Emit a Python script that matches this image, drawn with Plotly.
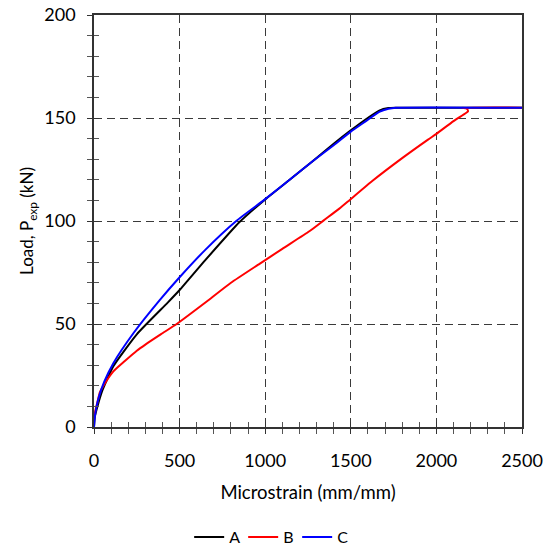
import plotly.graph_objects as go

# Data (microstrain, load kN)
a_x = [0, 5, 20, 50, 113, 250, 432, 500, 650, 850, 1000, 1150, 1277, 1400, 1500, 1588, 1666, 1720, 1760, 2500]
a_y = [0, 5, 10, 18, 29.5, 45, 60.5, 66.5, 81, 99.5, 110.5, 120.5, 129, 137.5, 144, 149.4, 153.6, 154.8, 155, 155]

b_x = [0, 8, 20, 35, 70, 113, 180, 250, 300, 400, 483, 666, 800, 967, 1100, 1258, 1342, 1433, 1491, 1627, 1800, 1951, 2000, 2100, 2170, 2185, 2178, 2150, 2500]
b_y = [4, 8, 12, 17, 22, 27, 32, 37, 40, 45.5, 50, 61.4, 70, 79.2, 86.5, 95, 100.3, 106, 110, 119.5, 130.5, 139.5, 142.3, 148.5, 152.3, 153.3, 154.5, 155, 155]

c_x = [0, 5, 15, 30, 60, 113, 230, 385, 500, 650, 831, 1000, 1150, 1277, 1400, 1500, 1588, 1666, 1720, 1764, 2500]
c_y = [0, 5, 10, 15, 22, 31, 45.5, 61.7, 72.7, 86, 100, 110.6, 120.5, 129, 136.8, 143.4, 148.5, 153, 154.5, 155, 155]

x_ticks = [0, 500, 1000, 1500, 2000, 2500]
y_ticks = [0, 50, 100, 150, 200]

FONT = "Lato"

fig = go.Figure()
fig.add_trace(go.Scatter(x=a_x, y=a_y, mode="lines", name="A",
                         line=dict(color="black", width=2, shape="spline", smoothing=0.5)))
fig.add_trace(go.Scatter(x=b_x, y=b_y, mode="lines", name="B",
                         line=dict(color="#ff0000", width=2, shape="spline", smoothing=0.5)))
fig.add_trace(go.Scatter(x=c_x, y=c_y, mode="lines", name="C",
                         line=dict(color="#0000ff", width=2, shape="spline", smoothing=0.5)))
# invisible trace to anchor overlay axes (inside ticks)
fig.add_trace(go.Scatter(x=[0], y=[0], xaxis="x2", yaxis="y2", mode="markers",
                         marker=dict(opacity=0), showlegend=False, hoverinfo="skip"))

grid = dict(showgrid=True, gridcolor="#3a3a3a", gridwidth=1, griddash="8px,5px")

fig.update_layout(
    width=548, height=547,
    margin=dict(l=94, r=26, t=15, b=120, autoexpand=False),
    paper_bgcolor="white", plot_bgcolor="white",
    font=dict(family=FONT, size=18, color="black"),
    xaxis=dict(range=[0, 2500], tickvals=x_ticks, ticks="outside", ticklen=5,
               tickwidth=1.3, tickcolor="#333", linecolor="#333", linewidth=1.5,
               mirror=True, showline=True, zeroline=False, automargin=False,
               minor=dict(ticks="outside", ticklen=5, dtick=100, tickcolor="#555", tickwidth=1.3, showgrid=False),
               ticklabelstandoff=12, tickfont=dict(size=18),
               title=dict(text="Microstrain (mm/mm)", standoff=16, font=dict(size=18.5)),
               **grid),
    yaxis=dict(range=[0, 200], tickvals=y_ticks, ticks="outside", ticklen=5,
               tickwidth=1.3, tickcolor="#333", linecolor="#333", linewidth=1.5,
               mirror=True, showline=True, zeroline=False, automargin=False,
               minor=dict(ticks="outside", ticklen=5, dtick=10, tickcolor="#555", tickwidth=1.3, showgrid=False),
               ticklabelstandoff=8, tickfont=dict(size=18),
               title=dict(text="Load, P<sub>exp</sub> (kN)", standoff=6, font=dict(size=17)),
               **grid),
    xaxis2=dict(range=[0, 2500], overlaying="x", anchor="y2", showgrid=False, zeroline=False,
                tickvals=x_ticks, ticks="inside", ticklen=5, tickwidth=1.3, tickcolor="#333",
                showticklabels=False,
                minor=dict(ticks="inside", ticklen=5, dtick=100, tickcolor="#555", tickwidth=1.3)),
    yaxis2=dict(range=[0, 200], overlaying="y", anchor="x2", showgrid=False, zeroline=False,
                tickvals=y_ticks, ticks="inside", ticklen=5, tickwidth=1.3, tickcolor="#333",
                showticklabels=False,
                minor=dict(ticks="inside", ticklen=5, dtick=10, tickcolor="#555", tickwidth=1.3)),
    legend=dict(orientation="h", xref="container", yref="container",
                x=0.493, xanchor="center", y=0.018, yanchor="middle",
                font=dict(size=16), entrywidth=9, entrywidthmode="pixels", tracegroupgap=0),
    showlegend=True,
)

fig.write_html("out.html")
